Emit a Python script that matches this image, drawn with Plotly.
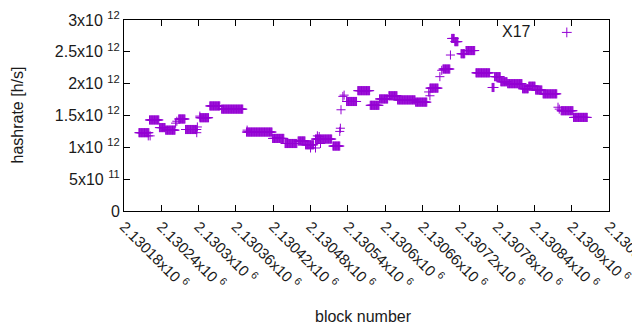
import numpy as np
import plotly.graph_objects as go

# Runs of constant hashrate (block range, value in 1e12 h/s)
seg_start = [2130204, 2130221, 2130237, 2130247, 2130268, 2130279, 2130302, 2130318,
             2130337, 2130377, 2130419, 2130439, 2130460, 2130472, 2130488, 2130516,
             2130538, 2130556, 2130576, 2130591, 2130606, 2130620, 2130649, 2130672,
             2130693, 2130707, 2130712, 2130722, 2130730, 2130746, 2130772, 2130776,
             2130786, 2130797, 2130821, 2130831, 2130842, 2130854, 2130883, 2130903]
seg_end = [2130220, 2130236, 2130246, 2130262, 2130278, 2130297, 2130316, 2130334,
           2130371, 2130418, 2130437, 2130458, 2130471, 2130485, 2130514, 2130527,
           2130554, 2130575, 2130590, 2130604, 2130619, 2130648, 2130667, 2130685,
           2130704, 2130711, 2130717, 2130728, 2130744, 2130768, 2130775, 2130785,
           2130796, 2130820, 2130830, 2130841, 2130852, 2130876, 2130902, 2130925]
seg_value = [1.23, 1.43, 1.31, 1.27, 1.445, 1.28, 1.465, 1.65,
             1.60, 1.24, 1.14, 1.06, 1.10, 1.04, 1.13, 1.02,
             1.72, 1.89, 1.66, 1.76, 1.81, 1.745, 1.71, 1.93,
             2.23, 2.71, 2.66, 2.47, 2.52, 2.17, 1.94, 2.11,
             2.03, 2.00, 1.92, 1.96, 1.90, 1.84, 1.575, 1.47]

# Isolated points between runs
single_block = [2130219, 2130222, 2130263, 2130265, 2130297, 2130298, 2130302,
                2130378, 2130480, 2130488, 2130491, 2130494, 2130496,
                2130527, 2130528, 2130529, 2130532, 2130534, 2130670, 2130672,
                2130688, 2130691, 2130705, 2130878, 2130880]
single_value = [1.18, 1.18, 1.38, 1.41, 1.23, 1.32, 1.49,
                1.27, 0.99, 0.99, 1.18, 1.17, 1.06,
                1.25, 1.30, 1.59, 1.80, 1.82, 1.87, 1.81,
                2.11, 2.21, 2.45, 1.63, 1.60]

x_tickvals = [2130180 + 60 * i for i in range(14)]
x_ticklabels = ["2.13018", "2.13024", "2.1303", "2.13036", "2.13042", "2.13048", "2.13054",
                "2.1306", "2.13066", "2.13072", "2.13078", "2.13084", "2.1309", "2.13096"]
y_tickvals = [0, 0.5e12, 1e12, 1.5e12, 2e12, 2.5e12, 3e12]
y_ticklabels = ["0", "5x10 <sup>11</sup>", "1x10 <sup>12</sup>", "1.5x10 <sup>12</sup>",
                "2x10 <sup>12</sup>", "2.5x10 <sup>12</sup>", "3x10 <sup>12</sup>"]

xs, ys = [], []
for s, e, v in zip(seg_start, seg_end, seg_value):
    blocks = np.arange(s, e + 1)
    xs.extend(blocks.tolist())
    ys.extend([v * 1e12] * len(blocks))
xs.extend(single_block)
ys.extend([v * 1e12 for v in single_value])

COLOR = "#9400D3"
FONT = "Liberation Sans, Arial, sans-serif"

fig = go.Figure()
fig.add_trace(go.Scatter(
    x=xs, y=ys, mode="markers", name="X17", showlegend=False,
    marker=dict(symbol="cross-thin", size=6.5, line=dict(color=COLOR, width=1)),
))
# legend key marker on an overlay paper-like axis
fig.add_trace(go.Scatter(
    x=[0.913], y=[0.935], mode="markers", showlegend=False, xaxis="x2", yaxis="y2",
    marker=dict(symbol="cross-thin", size=7, line=dict(color=COLOR, width=1)),
))

# page body adds an 8px offset; compensate so the plot area sits at 124..609 x 20..211
fig.update_layout(
    width=632, height=322,
    margin=dict(l=116, r=31, t=12, b=119),
    paper_bgcolor="white", plot_bgcolor="white",
    font=dict(family=FONT, size=16, color="#1a1a1a"),
    xaxis=dict(range=[2130180, 2130960], tickvals=x_tickvals,
               ticktext=[t + "x10 <sup>6</sup>" for t in x_ticklabels],
               tickangle=45, ticks="inside", ticklen=6, tickcolor="black",
               showline=True, linecolor="black", linewidth=1, mirror="allticks",
               showgrid=False, zeroline=False, tickfont=dict(size=15),
               ticklabeloverflow="allow", automargin=False),
    yaxis=dict(range=[0, 3e12], tickvals=y_tickvals, ticktext=y_ticklabels,
               ticks="inside", ticklen=6, tickcolor="black",
               showline=True, linecolor="black", linewidth=1, mirror="allticks",
               showgrid=False, zeroline=False, tickfont=dict(size=16),
               automargin=False),
    xaxis2=dict(range=[0, 1], overlaying="x", visible=False),
    yaxis2=dict(range=[0, 1], overlaying="y", visible=False),
    annotations=[
        dict(text="X17", xref="paper", yref="paper", x=0.843, y=0.942,
             xanchor="right", yanchor="middle", showarrow=False, font=dict(size=16)),
        dict(text="hashrate [h/s]", xref="paper", yref="paper", x=0, y=0.5,
             xshift=-107, textangle=-90, showarrow=False, font=dict(size=16),
             xanchor="center", yanchor="middle"),
        dict(text="block number", xref="paper", yref="paper", x=0.494, y=0,
             yshift=-105, showarrow=False, font=dict(size=16),
             xanchor="center", yanchor="middle"),
    ],
)

fig.write_html("out.html")
